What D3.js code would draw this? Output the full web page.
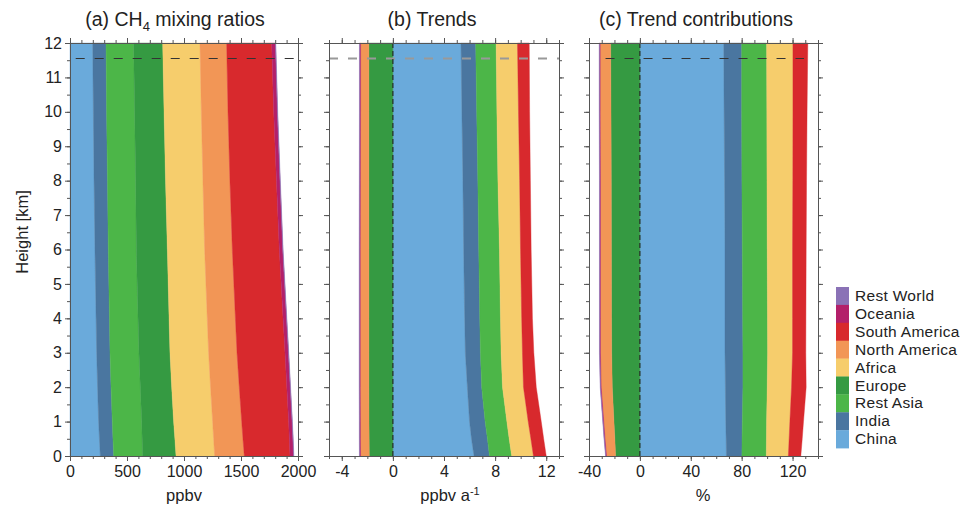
<!DOCTYPE html>
<html>
<head>
<meta charset="utf-8">
<script src="https://cdn.jsdelivr.net/npm/d3@7/dist/d3.min.js"></script>
<style>
  body { margin: 0; background: #fff; }
  svg text { font-family: "Liberation Sans", Arial, sans-serif; fill: #222; }
</style>
</head>
<body>
<div id="chart"></div>
<script>
// heights (km) at which the profiles were read
var heights = [0, 0.5, 1, 2, 3, 4, 6, 8, 10, 12];
var regions = ["China", "India", "Rest Asia", "Europe", "Africa", "North America", "South America", "Oceania", "Rest World"];
var colors = ["#6aaadb", "#4a76a0", "#4cb648", "#359a42", "#f6cd6c", "#f29656", "#d8292d", "#b3206a", "#8a72b6"];

// (a) CH4 mixing ratio contributions, ppbv
var mixChina     = [266, 258, 251, 242, 234, 229, 219, 211, 205, 199];
var mixIndia     = [117, 119, 120, 118, 117, 117, 117, 118, 116, 117];
var mixRestAsia  = [254, 256, 258, 257, 254, 251, 246, 247, 246, 242];
var mixEurope    = [293, 287, 280, 275, 272, 272, 272, 262, 258, 255];
var mixAfrica    = [339, 340, 342, 341, 339, 335, 327, 328, 327, 327];
var mixNorthAm   = [260, 257, 255, 252, 249, 247, 243, 237, 234, 234];
var mixSouthAm   = [401, 407, 412, 417, 421, 418, 412, 408, 401, 395];
var mixOceania   = [31, 31, 30, 30, 30, 30, 30, 31, 32, 33];
var mixRestWorld = [3, 3, 3, 3, 3, 3, 3, 3, 3, 3];

// (b) trends, ppbv a-1
var trChina     = [6.35, 6.15, 6.0, 5.83, 5.67, 5.62, 5.54, 5.48, 5.40, 5.33];
var trIndia     = [1.21, 1.25, 1.22, 1.12, 1.18, 1.18, 1.18, 1.17, 1.16, 1.15];
var trRestAsia  = [1.74, 1.70, 1.70, 1.63, 1.62, 1.62, 1.62, 1.57, 1.58, 1.60];
var trEurope    = [-1.85, -1.86, -1.87, -1.88, -1.88, -1.88, -1.88, -1.88, -1.88, -1.88];
var trAfrica    = [1.70, 1.70, 1.67, 1.64, 1.67, 1.66, 1.65, 1.70, 1.69, 1.67];
var trNorthAm   = [-0.68, -0.68, -0.67, -0.67, -0.67, -0.67, -0.67, -0.66, -0.65, -0.65];
var trSouthAm   = [1.0, 1.0, 1.02, 1.0, 0.89, 0.84, 0.83, 0.84, 0.87, 0.92];
var trOceania   = [-0.06, -0.06, -0.06, -0.06, -0.06, -0.06, -0.06, -0.06, -0.06, -0.06];
var trRestWorld = [-0.03, -0.03, -0.03, -0.03, -0.03, -0.03, -0.03, -0.03, -0.03, -0.03];

// (c) trend contributions, %
var pcChina     = [68.0, 67.8, 67.5, 67.2, 66.9, 66.9, 66.9, 66.6, 66.2, 65.9];
var pcIndia     = [12.2, 12.5, 13.0, 13.8, 14.1, 13.9, 13.6, 13.6, 13.8, 14.1];
var pcRestAsia  = [19.2, 19.2, 19.1, 19.1, 19.4, 19.5, 19.6, 19.7, 19.8, 19.6];
var pcEurope    = [-19.1, -19.7, -20.4, -21.7, -22.2, -22.3, -22.4, -22.5, -22.7, -23.0];
var pcAfrica    = [17.3, 17.8, 18.3, 19.1, 19.6, 19.7, 19.9, 20.3, 20.5, 20.7];
var pcNorthAm   = [-7.1, -7.7, -8.0, -8.7, -8.8, -8.7, -8.6, -8.5, -8.5, -8.2];
var pcSouthAm   = [9.8, 10.3, 10.7, 11.5, 10.4, 10.5, 10.7, 10.8, 11.1, 11.7];
var pcOceania   = [-0.5, -0.5, -0.5, -0.5, -0.5, -0.5, -0.5, -0.5, -0.5, -0.5];
var pcRestWorld = [-0.3, -0.3, -0.3, -0.3, -0.3, -0.3, -0.3, -0.3, -0.3, -0.3];

var tropopause = 11.55; // km, dashed line

var width = 976, height = 511;
var yTop = 43, yBottom = 456;

var svg = d3.select("#chart").append("svg")
    .attr("width", width)
    .attr("height", height);

var y_scale = d3.scaleLinear().domain([0, 12]).range([yBottom, yTop]);

function makeRows(series) {
    return heights.map(function (h, i) {
        var row = { h: h };
        regions.forEach(function (r, k) { row[r] = series[k][i]; });
        return row;
    });
}

function drawPanel(opt) {
    var x_scale = d3.scaleLinear().domain(opt.domain).range(opt.range);
    var g = svg.append("g");

    var stack = d3.stack()
        .keys(regions)
        .offset(d3.stackOffsetDiverging)
        .order(d3.stackOrderNone);
    var layers = stack(makeRows(opt.series));

    var area = d3.area()
        .y(function (d) { return y_scale(d.data.h); })
        .x0(function (d) { return x_scale(d[0]); })
        .x1(function (d) { return x_scale(d[1]); });

    g.selectAll("path.band")
        .data(layers)
        .enter()
        .append("path")
        .attr("class", "band")
        .attr("d", area)
        .attr("fill", function (d, i) { return colors[i]; })
        .attr("stroke", function (d, i) { return colors[i]; })
        .attr("stroke-width", 0.4);

    // tropopause
    g.append("line")
        .attr("x1", x_scale(opt.dashExtent[0]))
        .attr("x2", x_scale(opt.dashExtent[1]))
        .attr("y1", y_scale(tropopause))
        .attr("y2", y_scale(tropopause))
        .attr("stroke", opt.dashColor)
        .attr("stroke-width", opt.dashWidth)
        .attr("stroke-dasharray", "9,10");

    // zero line
    if (opt.zeroLine) {
        g.append("line")
            .attr("x1", x_scale(0)).attr("x2", x_scale(0))
            .attr("y1", yTop).attr("y2", yBottom)
            .attr("stroke", "#222")
            .attr("stroke-width", 1.1)
            .attr("stroke-dasharray", "5,3");
    }

    var minorX = d3.range(opt.domain[0], opt.domain[1] + opt.minorStep / 2, opt.minorStep);
    var majorY = d3.range(0, 13, 1);
    var minorY = d3.range(0, 12.01, 0.5);

    function styleAxis(sel) {
        sel.selectAll("path.domain").attr("stroke", "#555");
        sel.selectAll(".tick line").attr("stroke", "#555");
        sel.selectAll(".tick text").style("font-size", "16px").attr("fill", "#222");
    }

    // bottom
    var bx = g.append("g").attr("transform", "translate(0," + yBottom + ")")
        .call(d3.axisBottom(x_scale).tickValues(opt.majorX).tickSize(5).tickSizeOuter(0)
            .tickFormat(function (d) { return d < 0 ? "-" + Math.abs(d) : d; }))
        .call(styleAxis);
    bx.selectAll(".tick text").attr("y", 10);
    g.append("g").attr("transform", "translate(0," + yBottom + ")")
        .call(d3.axisBottom(x_scale).tickValues(minorX).tickSize(3).tickFormat(""))
        .call(styleAxis);
    // top
    g.append("g").attr("transform", "translate(0," + yTop + ")")
        .call(d3.axisTop(x_scale).tickValues(opt.majorX).tickSize(5).tickSizeOuter(0).tickFormat(""))
        .call(styleAxis);
    g.append("g").attr("transform", "translate(0," + yTop + ")")
        .call(d3.axisTop(x_scale).tickValues(minorX).tickSize(3).tickFormat(""))
        .call(styleAxis);
    // left
    g.append("g").attr("transform", "translate(" + opt.range[0] + ",0)")
        .call(d3.axisLeft(y_scale).tickValues(majorY).tickSize(5).tickSizeOuter(0)
            .tickFormat(opt.yLabels ? d3.format("d") : ""))
        .call(styleAxis);
    g.append("g").attr("transform", "translate(" + opt.range[0] + ",0)")
        .call(d3.axisLeft(y_scale).tickValues(minorY).tickSize(3).tickFormat(""))
        .call(styleAxis);
    // right
    g.append("g").attr("transform", "translate(" + opt.range[1] + ",0)")
        .call(d3.axisRight(y_scale).tickValues(majorY).tickSize(5).tickSizeOuter(0).tickFormat(""))
        .call(styleAxis);
    g.append("g").attr("transform", "translate(" + opt.range[1] + ",0)")
        .call(d3.axisRight(y_scale).tickValues(minorY).tickSize(3).tickFormat(""))
        .call(styleAxis);

    // title
    var t = g.append("text")
        .attr("x", opt.titleX)
        .attr("y", 26)
        .attr("text-anchor", "middle")
        .style("font-size", "19.5px");
    opt.title(t);

    // x label
    var xl = g.append("text")
        .attr("x", opt.xLabelX)
        .attr("y", 501)
        .attr("text-anchor", "middle")
        .style("font-size", "16.5px");
    opt.xLabel(xl);
}

drawPanel({
    domain: [0, 2000], range: [70, 298],
    majorX: [0, 500, 1000, 1500, 2000], minorStep: 100,
    series: [mixChina, mixIndia, mixRestAsia, mixEurope, mixAfrica, mixNorthAm, mixSouthAm, mixOceania, mixRestWorld],
    dashExtent: [50, 2000], dashColor: "#333", dashWidth: 1.2,
    zeroLine: false, yLabels: true,
    titleX: 175,
    title: function (t) {
        t.append("tspan").text("(a) CH");
        t.append("tspan").attr("dy", 5).style("font-size", "13px").text("4");
        t.append("tspan").attr("dy", -5).text(" mixing ratios");
    },
    xLabelX: 184,
    xLabel: function (t) { t.text("ppbv"); }
});

drawPanel({
    domain: [-5, 13], range: [329, 559],
    majorX: [-4, 0, 4, 8, 12], minorStep: 1,
    series: [trChina, trIndia, trRestAsia, trEurope, trAfrica, trNorthAm, trSouthAm, trOceania, trRestWorld],
    dashExtent: [-5, 13], dashColor: "#999", dashWidth: 1.8,
    zeroLine: true, yLabels: false,
    titleX: 432,
    title: function (t) { t.text("(b) Trends"); },
    xLabelX: 450,
    xLabel: function (t) {
        t.append("tspan").text("ppbv a");
        t.append("tspan").attr("dy", -6).style("font-size", "11px").text("-1");
    }
});

drawPanel({
    domain: [-40, 140], range: [589, 818],
    majorX: [-40, 0, 40, 80, 120], minorStep: 10,
    series: [pcChina, pcIndia, pcRestAsia, pcEurope, pcAfrica, pcNorthAm, pcSouthAm, pcOceania, pcRestWorld],
    dashExtent: [-27, 129], dashColor: "#333", dashWidth: 1.2,
    zeroLine: true, yLabels: false,
    titleX: 696,
    title: function (t) { t.text("(c) Trend contributions"); },
    xLabelX: 703,
    xLabel: function (t) { t.text("%"); }
});

// y axis label
svg.append("text")
    .attr("transform", "translate(28,232) rotate(-90)")
    .attr("text-anchor", "middle")
    .style("font-size", "16.5px")
    .text("Height [km]");

// legend (top = Rest World, bottom = China)
var legendOrder = regions.slice().reverse();
var legendColors = colors.slice().reverse();
var lg = svg.append("g").attr("transform", "translate(836,287)");
var rowH = 17.9;
lg.selectAll("rect")
    .data(legendOrder)
    .enter()
    .append("rect")
    .attr("x", 0)
    .attr("y", function (d, i) { return i * rowH; })
    .attr("width", 13)
    .attr("height", rowH + 0.3)
    .attr("fill", function (d, i) { return legendColors[i]; });
lg.selectAll("text")
    .data(legendOrder)
    .enter()
    .append("text")
    .attr("x", 19)
    .attr("y", function (d, i) { return i * rowH + 14; })
    .style("font-size", "15.5px")
    .attr("textLength", function (d) { return d.length * 0; })
    .attr("textLength", null)
    .style("letter-spacing", "0.3px")
    .text(function (d) { return d; });
</script>
</body>
</html>
